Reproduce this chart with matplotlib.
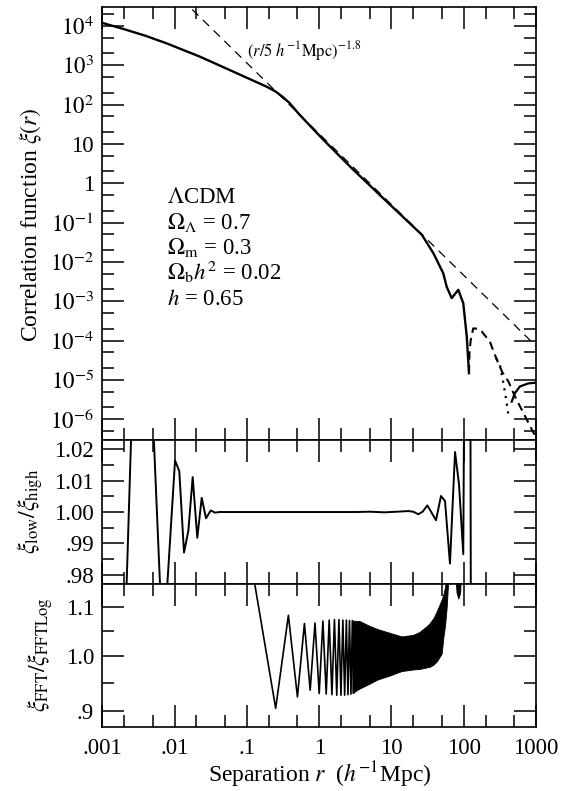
import numpy as np
import matplotlib
matplotlib.use('Agg')
import matplotlib.pyplot as plt
from matplotlib.ticker import FixedLocator, LogLocator, NullFormatter

plt.rcParams['font.family'] = ['Liberation Serif', 'DejaVu Serif']
plt.rcParams['mathtext.fontset'] = 'stix'

# --- top panel: correlation function ---
# positive part (solid)
r_pos = [0.001, 0.002, 0.004, 0.0078, 0.0224, 0.0646, 0.186, 0.251, 0.316, 0.389, 0.537,
         1.15, 2.69, 6.92, 26.3, 38.0, 44.4, 52.1, 58.0, 68.0, 84.0, 98.4, 110.0, 118.0]
xi_pos = [1.2e4, 8.3e3, 5.6e3, 3.6e3, 1.66e3, 692, 288, 214, 155, 110, 55,
          12.6, 2.63, 0.50, 0.049, 0.0166, 0.0093, 0.0051, 0.00234, 0.0012, 0.00195,
          0.00089, 1.26e-4, 1.48e-5]
# negative part (dashed, plotted as |xi|)
r_neg = [118.0, 120.0, 124.5, 135.0, 155.0, 177.0, 230.0, 282.0, 339.0, 417.0,
         513.0, 708.0, 832.0, 1000.0]
xi_neg = [1.48e-5, 5.0e-5, 1.0e-4, 2.04e-4, 2.0e-4, 1.7e-4, 9.3e-5, 3.5e-5, 1.6e-5,
          8.9e-6, 3.7e-6, 1.17e-6, 6.5e-7, 3.4e-7]
# second computation, dotted dive then positive again at large r
r_dot = [282.0, 316.0, 355.0, 385.0, 412.0]
xi_dot = [3.5e-5, 2.4e-5, 7.9e-6, 3.2e-6, 1.4e-6]
r_pos2 = [460.0, 510.0, 598.0, 776.0, 1000.0]
xi_pos2 = [2.8e-6, 4.6e-6, 6.8e-6, 8.1e-6, 8.5e-6]

# power law reference line (r/r0)^-gamma
r0 = 5.0
gamma = 1.8
r_pl = [1e-3, 1e3]

# --- middle panel: xi_low / xi_high ---
r_ratio = [0.001, 0.00141, 0.00209, 0.00263, 0.00355, 0.00501, 0.00661, 0.00759,
           0.01014, 0.01161, 0.01349, 0.01549, 0.01778, 0.0206, 0.0237, 0.0272,
           0.0316, 0.0362, 0.0417, 0.1, 1.0, 3.3, 5.0, 8.0, 12.0, 17.1, 20.0, 23.5,
           27.0, 31.3, 41.3, 48.4, 55.0, 64.4, 75.7, 85.9, 98.4, 117.5, 131.8, 200.0]
low_high = [0.90, 0.93, 0.965, 1.04, 1.06, 1.03, 0.965, 0.97,
            1.0164, 1.013, 0.9871, 0.994, 1.0111, 0.9918, 1.0045, 0.998,
            1.0005, 0.9998, 1.0, 1.0, 1.0, 1.0, 1.0001, 0.9999, 1.0001, 1.0003, 1.0001, 0.9993,
            1.0001, 1.0021, 0.9974, 1.0051, 1.0035, 0.9836, 1.0191, 1.0088, 0.9866, 1.3, 0.7, 0.6]

# --- bottom panel: xi_FFT / xi_FFTLog ---
# individual FFT grid points (linear spacing in r)
r_fft = [0.125, 0.25, 0.375, 0.5, 0.625, 0.75, 0.875, 1.0, 1.125, 1.25, 1.375, 1.5,
         1.625, 1.75, 1.875, 2.0, 2.125, 2.25, 2.375, 2.5, 2.625, 2.75, 2.875, 3.0]
fft_ratio = [1.16, 0.905, 1.082, 0.925, 1.065, 0.937, 1.066, 0.931, 1.070, 0.930, 1.072, 0.929,
             1.073, 0.928, 1.073, 0.928, 1.072, 0.928, 1.072, 0.929, 1.071, 0.930, 1.071, 0.932]
# beyond r~3 the oscillation is too dense to resolve: envelope of the band
r_band = [2.88, 3.63, 5.01, 6.31, 9.55, 13.8, 19.95, 24.5, 30.9, 33.9, 38.0, 42.2,
          49.4, 52.5, 55.0, 58.1, 63.1]
band_hi = [1.071, 1.070, 1.060, 1.054, 1.046, 1.039, 1.042, 1.048, 1.060, 1.066, 1.076, 1.090,
           1.115, 1.128, 1.142, 1.165, 1.20]
band_lo = [0.932, 0.940, 0.949, 0.956, 0.964, 0.972, 0.975, 0.976, 0.979, 0.980, 0.984, 0.990,
           1.005, 1.040, 1.060, 1.100, 1.20]
r_blob = [74.1, 79.4, 84.1, 89.1, 93.3]
blob_lo = [1.2, 1.13, 1.117, 1.13, 1.2]

xticks = [1e-3, 1e-2, 1e-1, 1, 10, 100, 1000]
xlabels = ['.001', '.01', '.1', '1', '10', '100', '1000']

fig = plt.figure(figsize=(5.83, 7.91), dpi=100)
ax1 = fig.add_axes([0.1755, 0.4437, 0.744, 0.5478])
ax2 = fig.add_axes([0.1755, 0.2617, 0.744, 0.182])
ax3 = fig.add_axes([0.1755, 0.0809, 0.744, 0.1808])

FS = 16.5


def style(ax):
    ax.set_xscale('log')
    ax.set_xlim(1e-3, 1e3)
    ax.xaxis.set_major_locator(FixedLocator(xticks))
    ax.xaxis.set_minor_locator(LogLocator(base=10, subs=(2, 5), numticks=30))
    ax.xaxis.set_minor_formatter(NullFormatter())
    ax.tick_params(which='both', direction='in', top=True, right=True, width=1.1,
                   labelsize=FS)
    ax.tick_params(which='major', length=16, pad=6)
    ax.tick_params(which='minor', length=8.5)
    for s in ax.spines.values():
        s.set_linewidth(1.2)


# top panel
ax1.plot(r_pos, xi_pos, color='black', lw=1.7)
ax1.plot(r_neg, xi_neg, color='black', lw=1.5, dashes=(4, 2.5))
ax1.plot(r_dot, xi_dot, color='black', lw=1.6, linestyle=(0, (1, 2.5)))
ax1.plot(r_pos2, xi_pos2, color='black', lw=1.6)
ax1.plot(r_pl, [(r / r0) ** -gamma for r in r_pl], color='black', lw=0.9, dashes=(7, 5))
style(ax1)
ax1.set_yscale('log')
ax1.set_ylim(10 ** -6.53, 10 ** 4.49)
ax1.yaxis.set_major_locator(FixedLocator([10.0 ** k for k in range(-6, 5)]))
ax1.yaxis.set_minor_locator(LogLocator(base=10, subs=(2, 5), numticks=30))
ax1.yaxis.set_minor_formatter(NullFormatter())
ax1.set_yticklabels(['$10^{-6}$', '$10^{-5}$', '$10^{-4}$', '$10^{-3}$', '$10^{-2}$',
                     '$10^{-1}$', '1', '10', '$10^{2}$', '$10^{3}$', '$10^{4}$'])
ax1.set_xticklabels([])

ax1.text(0.334, 0.885, r'$(r/5\ h^{-1}\mathrm{Mpc})^{-1.8}$', transform=ax1.transAxes,
         fontsize=12)
params = [r'$\Lambda$CDM', r'$\Omega_\Lambda$ = 0.7', r'$\Omega_\mathrm{m}$ = 0.3',
          r'$\Omega_\mathrm{b}h^2$ = 0.02', r'$h$ = 0.65']
for i, s in enumerate(params):
    ax1.text(0.149, 0.546 - i * 0.0587, s, transform=ax1.transAxes, fontsize=16.5,
             va='baseline')

# middle panel
ax2.plot(r_ratio, low_high, color='black', lw=1.4)
style(ax2)
ax2.set_ylim(0.9771, 1.0229)
ax2.yaxis.set_major_locator(FixedLocator([0.98, 0.99, 1.00, 1.01, 1.02]))
ax2.yaxis.set_minor_locator(FixedLocator([0.985, 0.995, 1.005, 1.015]))
ax2.set_yticklabels(['.98', '.99', '1.00', '1.01', '1.02'])
ax2.set_xticklabels([])

# bottom panel
ax3.plot(r_fft, fft_ratio, color='black', lw=1.2)
ax3.fill_between(r_band, band_lo, band_hi, color='black', lw=0.6)
ax3.fill_between(r_blob, blob_lo, [1.2] * len(r_blob), color='black', lw=0.6)
style(ax3)
ax3.set_yscale('log')
ax3.set_ylim(0.873, 1.149)
ax3.yaxis.set_major_locator(FixedLocator([0.9, 1.0, 1.1]))
ax3.yaxis.set_minor_locator(FixedLocator([0.95, 1.05]))
ax3.yaxis.set_minor_formatter(NullFormatter())
ax3.set_yticklabels(['.9', '1.0', '1.1'])
ax3.set_xticklabels(xlabels)
ax3.tick_params(axis='x', which='major', pad=8)

# axis labels
fig.text(31 / 583, 1 - 225 / 791, r'Correlation function $\xi(r)$', rotation=90,
         ha='center', va='center', fontsize=17)
fig.text(30 / 583, 1 - 511 / 791, r'$\xi_\mathrm{low}/\xi_\mathrm{high}$', rotation=90,
         ha='center', va='center', fontsize=17)
fig.text(40 / 583, 1 - 655 / 791, r'$\xi_\mathrm{FFT}/\xi_\mathrm{FFTLog}$', rotation=90,
         ha='center', va='center', fontsize=17)
fig.text(319.5 / 583, 1 - 775 / 791, r'Separation $r$  ($h^{-1}$Mpc)',
         ha='center', va='center', fontsize=17)

fig.savefig('out.png', dpi=100)
